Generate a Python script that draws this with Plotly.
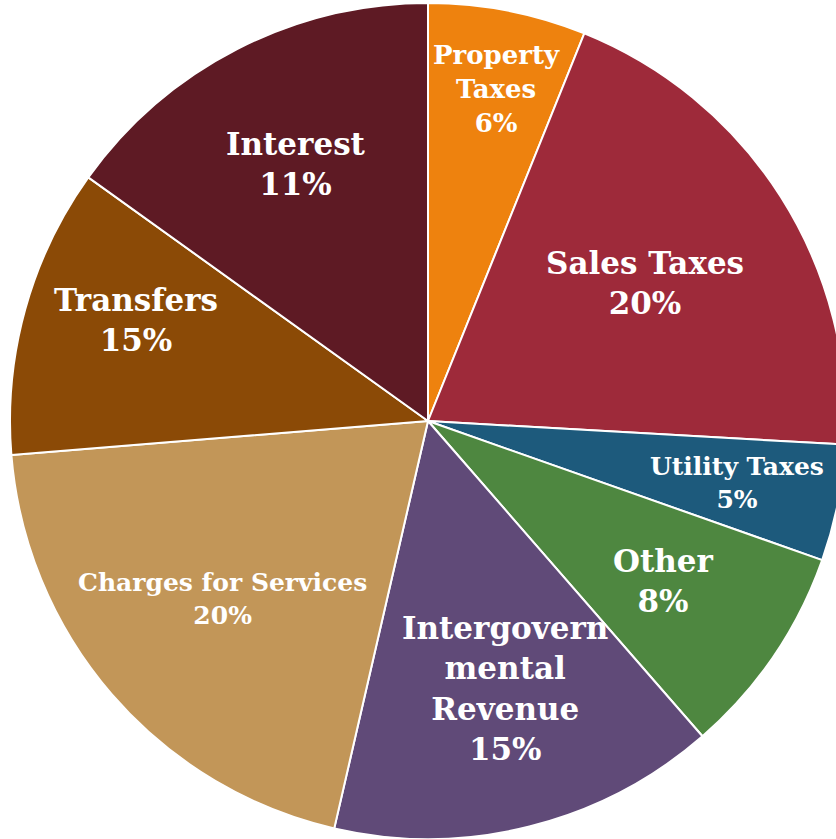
import math
import plotly.graph_objects as go

categories = ["Property Taxes", "Sales Taxes", "Utility Taxes", "Other",
              "Intergovernmental Revenue", "Charges for Services", "Transfers", "Interest"]
shares = [6.1, 19.8, 4.5, 8.2, 15.0, 20.1, 11.2, 15.1]
label_text = ["Property<br>Taxes", "Sales Taxes", "Utility Taxes", "Other",
              "Intergovern<br>mental<br>Revenue", "Charges for Services", "Transfers", "Interest"]
pct_text = ["6%", "20%", "5%", "8%", "15%", "20%", "15%", "11%"]

# styling
colors = ["#EE820E", "#9E2A3A", "#1D5A7C", "#4E8740", "#604A78", "#C29658", "#8B4A06", "#5E1A24"]
font_sizes = [26, 31, 25, 31, 31, 25, 31, 31]
label_radius = [0.81, 0.615, 0.754, 0.68, 0.66, 0.65, 0.74, 0.69]
label_xshift = [4, 0, 0, 0, 10, 0, 6, 0]
label_yshift = [0, 0, 0, 0, 0, 0, 18, 0]

fig = go.Figure(go.Pie(
    labels=categories,
    values=shares,
    textinfo="none",
    sort=False,
    direction="clockwise",
    rotation=0,
    marker=dict(colors=colors, line=dict(color="white", width=2)),
    hoverinfo="label+percent",
    showlegend=False,
    domain=dict(x=[0, 1], y=[0, 1]),
))

total = sum(shares)
cum = 0.0
annotations = []
for i, v in enumerate(shares):
    mid = (cum + v / 2) / total * 2 * math.pi
    cum += v
    r = label_radius[i] * 0.5
    annotations.append(dict(
        x=0.5 + r * math.sin(mid), y=0.5 + r * math.cos(mid),
        xref="paper", yref="paper", xanchor="center", yanchor="middle",
        xshift=label_xshift[i], yshift=label_yshift[i],
        text=f"{label_text[i]}<br>{pct_text[i]}", showarrow=False,
        font=dict(family="DejaVu Serif", size=font_sizes[i], color="white", weight="bold"),
    ))

fig.update_layout(
    width=846, height=839,
    margin=dict(l=10, r=0, t=3, b=0),
    paper_bgcolor="white",
    annotations=annotations,
)

fig.write_html(
    "out.html",
    config={"displayModeBar": False},
    post_script="document.body.style.margin='0';document.documentElement.style.overflow='hidden';document.body.style.overflow='hidden';",
)
